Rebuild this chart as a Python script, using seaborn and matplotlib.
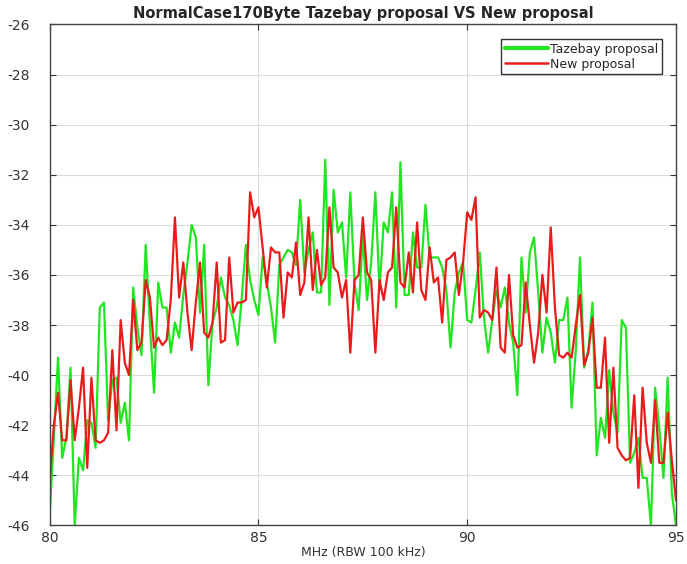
import numpy as np
import pandas as pd
import seaborn as sns
import matplotlib.pyplot as plt
from matplotlib.transforms import ScaledTranslation

# frequency axis, 0.1 MHz steps
freq_mhz = np.linspace(80, 95, 151)

# dBm per 0.1 MHz bin
tazebay = [
    -45.6, -42.5, -39.3, -43.3, -42.5, -39.7, -46.0, -43.3, -43.8, -41.8,
    -41.9, -42.9, -37.3, -37.1, -41.8, -40.2, -40.1, -41.9, -41.1, -42.6,
    -36.5, -38.1, -39.2, -34.8, -38.0, -40.7, -36.3, -37.3, -37.3, -39.1,
    -37.9, -38.5, -36.8, -35.5, -34.0, -34.5, -37.5, -34.8, -40.4, -37.9,
    -37.3, -36.1, -36.9, -37.2, -37.8, -38.8, -36.9, -34.8, -36.2, -37.0,
    -37.6, -35.3, -36.3, -37.3, -38.7, -35.6, -35.3, -35.0, -35.1, -35.6,
    -33.0, -35.9, -35.0, -34.3, -36.7, -36.7, -31.4, -37.2, -32.6, -34.3,
    -33.9, -36.1, -32.7, -36.3, -37.4, -34.4, -37.0, -35.5, -32.7, -36.6,
    -33.9, -34.3, -32.7, -37.3, -31.5, -36.8, -36.8, -34.3, -35.7, -35.7,
    -33.2, -35.3, -35.3, -35.3, -35.7, -36.6, -38.9, -36.7, -35.9, -35.5,
    -37.8, -37.9, -36.6, -35.1, -37.7, -39.1, -37.8, -36.6, -37.3, -36.5,
    -37.9, -38.7, -40.8, -35.3, -37.5, -35.1, -34.5, -36.7, -39.1, -37.7,
    -38.3, -39.5, -37.8, -37.8, -36.9, -41.3, -39.0, -35.3, -39.7, -39.0,
    -37.1, -43.2, -41.7, -42.5, -39.8, -41.5, -42.3, -37.8, -38.1, -43.5,
    -43.1, -42.5, -44.1, -44.1, -46.0, -40.5, -42.1, -44.1, -40.1, -44.7,
    -46.0,
]

new_proposal = [
    -44.2, -42.0, -40.7, -42.6, -42.6, -40.2, -42.6, -41.3, -39.7, -43.7,
    -40.1, -42.6, -42.7, -42.6, -42.3, -39.0, -42.2, -37.8, -39.5, -40.0,
    -37.0, -39.0, -38.7, -36.2, -36.9, -38.9, -38.5, -38.8, -38.6, -37.0,
    -33.7, -36.9, -35.5, -37.5, -39.0, -37.1, -35.5, -38.3, -38.5, -37.9,
    -35.5, -38.7, -38.6, -35.3, -37.5, -37.1, -37.1, -37.0, -32.7, -33.7,
    -33.3, -34.9, -36.5, -34.9, -35.1, -35.1, -37.7, -35.9, -36.1, -34.7,
    -36.8, -36.3, -33.7, -36.6, -35.0, -36.4, -36.1, -33.3, -35.7, -35.9,
    -36.9, -36.2, -39.1, -36.2, -36.0, -33.7, -35.9, -36.2, -39.1, -36.2,
    -37.0, -35.9, -35.7, -33.3, -36.3, -36.5, -35.1, -36.7, -33.9, -36.6,
    -37.0, -34.9, -36.3, -36.1, -37.9, -35.4, -35.3, -35.1, -36.8, -35.5,
    -33.5, -33.8, -32.9, -37.7, -37.4, -37.5, -37.8, -35.7, -38.9, -39.1,
    -36.0, -38.4, -38.9, -38.8, -36.3, -38.0, -39.5, -38.3, -36.0, -37.5,
    -34.1, -37.3, -39.2, -39.3, -39.1, -39.3, -38.0, -36.8, -39.6, -39.1,
    -37.7, -40.5, -40.5, -38.5, -42.7, -39.7, -42.9, -43.2, -43.4, -43.3,
    -40.8, -44.5, -40.5, -42.7, -43.5, -41.0, -43.5, -43.5, -41.5, -43.4,
    -45.0,
]

series_names = ['Tazebay proposal', 'New proposal']
colors = {'Tazebay proposal': '#22e522', 'New proposal': '#e81c1c'}
x_ticks = [80, 85, 90, 95]
y_ticks = list(range(-46, -25, 2))

df = pd.DataFrame({
    'freq': np.concatenate([freq_mhz, freq_mhz]),
    'level': tazebay + new_proposal,
    'series': [series_names[0]] * len(tazebay) + [series_names[1]] * len(new_proposal),
})

sns.set_style("ticks")
plt.rcParams['font.family'] = ['DejaVu Sans']
plt.rcParams['axes.unicode_minus'] = False

fig = plt.figure(figsize=(6.87, 5.64), dpi=100)
ax = fig.add_axes([0.0723, 0.0683, 0.9117, 0.8883])

sns.lineplot(data=df, x='freq', y='level', hue='series', hue_order=series_names,
             palette=colors, linewidth=1.6, estimator=None, sort=False, ax=ax)

ax.set_xlim(80, 95)
ax.set_ylim(-46, -26)
ax.set_xticks(x_ticks)
ax.set_yticks(y_ticks)
ax.set_xticklabels([str(v) for v in x_ticks])
ax.set_yticklabels([str(v) for v in y_ticks])
ax.grid(True, color='#dcdcdc', linewidth=0.8)
ax.tick_params(direction='in', top=True, right=True, length=4, width=0.8,
               labelsize=10, colors='#333333', pad=4)
for sp in ax.spines.values():
    sp.set_color('#444444')
    sp.set_linewidth(1.0)

# y labels sit further left in the reference
shift = ScaledTranslation(-10 / 72, 0, fig.dpi_scale_trans)
for lab in ax.get_yticklabels():
    lab.set_transform(lab.get_transform() + shift)

ax.set_title("NormalCase170Byte Tazebay proposal VS New proposal",
             fontsize=10.5, fontweight='bold', pad=5)
ax.set_xlabel("MHz (RBW 100 kHz)", fontsize=9, color='#333333', labelpad=1)
ax.set_ylabel("")

leg = ax.legend(loc='upper right', bbox_to_anchor=(0.9777, 0.971), borderaxespad=0,
                fontsize=9, handlelength=3.4, handletextpad=0.2, labelspacing=0.15,
                borderpad=0.3, fancybox=False, framealpha=1, edgecolor='#333333')
leg.get_lines()[0].set_linewidth(3)
leg.get_lines()[1].set_linewidth(1.8)

fig.savefig('out.png', dpi=100)
plt.close(fig)
